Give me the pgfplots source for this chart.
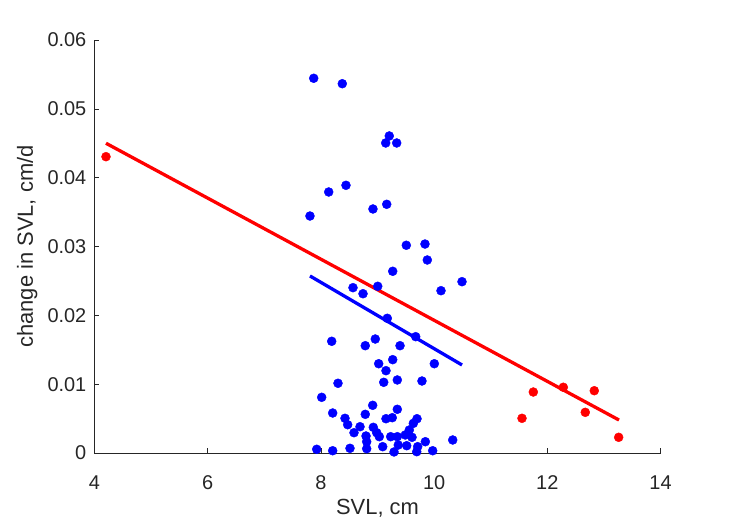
\documentclass[border=0pt]{standalone}
\usepackage{fontspec}
\setmainfont{Liberation Sans}
\usepackage{pgfplots}
\pgfplotsset{compat=1.18}
\definecolor{axgray}{rgb}{0.15,0.15,0.15}
\begin{document}
\begin{tikzpicture}
\useasboundingbox (-94.5bp,-68bp) rectangle (634.5bp,453bp);
\begin{axis}[
  at={(0,0)}, anchor=south west,
  scale only axis, width=566bp, height=413bp,
  xmin=4, xmax=14, ymin=0, ymax=0.06,
  axis lines*=left,
  scaled y ticks=false, scaled x ticks=false,
  axis line style={axgray, line width=0.6bp},
  tick style={axgray, line width=0.6bp},
  tick align=inside, major tick length=5bp,
  xtick={4,6,8,10,12,14},
  xticklabels={4,6,8,10,12,14},
  ytick={0,0.01,0.02,0.03,0.04,0.05,0.06},
  yticklabels={0,0.01,0.02,0.03,0.04,0.05,0.06},
  xticklabel style={font=\fontsize{20}{24}\selectfont, text=axgray, anchor=base, inner sep=0pt, yshift=-36bp},
  yticklabel style={font=\fontsize{20}{24}\selectfont, text=axgray, anchor=east, inner sep=0pt, xshift=-8bp},
  xlabel={SVL, cm},
  ylabel={change in SVL, cm/d},
  xlabel style={font=\fontsize{22}{26}\selectfont, text=axgray, at={(axis description cs:0.5,-0.1501)}, anchor=base, inner sep=0pt},
  ylabel style={font=\fontsize{22}{26}\selectfont, text=axgray, at={(axis description cs:-0.1087,0.5)}, anchor=base, inner sep=0pt},
  clip=false,
]
\addplot[only marks, mark=*, mark size=4.5bp, blue, mark options={fill=blue, draw=blue}] coordinates {
(7.873,0.05444) (8.378,0.05365) (9.208,0.04606) (9.145,0.04504) (9.339,0.04504)
(8.443,0.03889) (8.138,0.03792) (7.807,0.03443) (8.920,0.03545) (9.163,0.03613)
(9.509,0.03018) (9.839,0.03036) (9.880,0.02804) (9.269,0.02640) (10.493,0.02489)
(10.122,0.02358) (8.567,0.02402) (8.744,0.02314) (9.004,0.02422) (9.173,0.01957)
(9.675,0.01690) (8.191,0.01623) (8.784,0.01559) (8.961,0.01656) (9.398,0.01559)
(9.021,0.01297) (9.269,0.01356) (9.150,0.01196) (10.004,0.01297) (8.302,0.01013)
(9.110,0.01027) (9.350,0.01061) (9.786,0.01046) (8.014,0.00809) (8.208,0.00581)
(8.915,0.00693) (8.784,0.00562) (9.350,0.00635) (8.426,0.00504) (8.473,0.00411)
(9.150,0.00498) (9.261,0.00513) (9.698,0.00498) (9.633,0.00431) (8.691,0.00382)
(8.585,0.00295) (8.926,0.00373) (8.986,0.00295) (8.797,0.00247) (9.032,0.00237)
(9.233,0.00237) (9.350,0.00237) (9.491,0.00262) (9.562,0.00334) (9.610,0.00228)
(8.809,0.00164) (9.092,0.00092) (9.367,0.00116) (9.516,0.00106) (9.710,0.00092)
(9.845,0.00164) (10.329,0.00189) (7.926,0.00054) (8.208,0.00033) (8.514,0.00068)
(8.809,0.00062) (9.292,0.00015) (9.693,0.00019) (9.975,0.00033)
};
\addplot[only marks, mark=*, mark size=4.5bp, red, mark options={fill=red, draw=red}] coordinates {
(4.203,0.04305) (11.553,0.00504) (11.753,0.00886) (12.283,0.00955)
(12.671,0.00591) (12.830,0.00905) (13.261,0.00228)
};
\addplot[red, line width=3.3bp, no marks] coordinates {(4.203,0.0450) (13.267,0.00479)};
\addplot[blue, line width=3.3bp, no marks] coordinates {(7.807,0.02572) (10.493,0.01279)};
\end{axis}
\end{tikzpicture}
\end{document}
